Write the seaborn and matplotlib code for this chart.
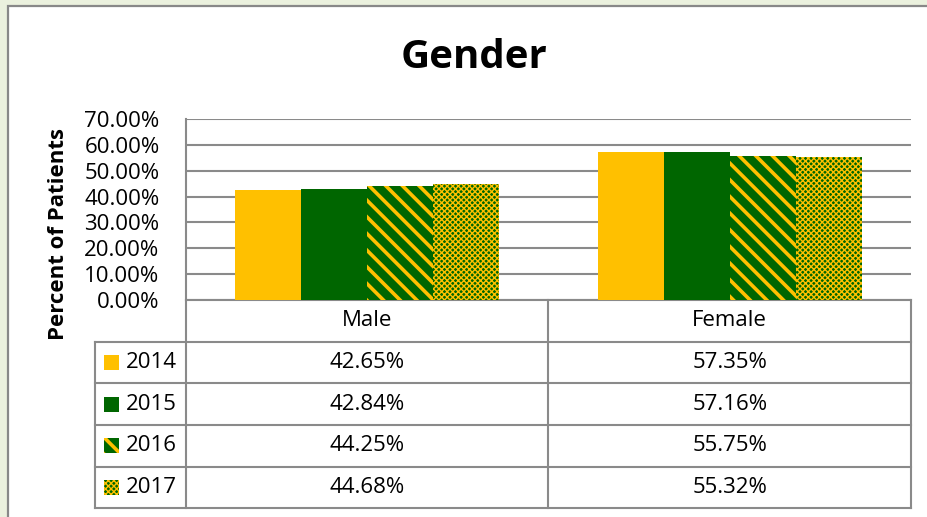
import numpy as np
import pandas as pd
import matplotlib
matplotlib.use('Agg')
import matplotlib.pyplot as plt
import seaborn as sns
from matplotlib.patches import Rectangle

# ── Data ───────────────────────────────────────────────────────────
genders = ['Male', 'Female']
years = ['2014', '2015', '2016', '2017']
pct_2014 = [42.65, 57.35]
pct_2015 = [42.84, 57.16]
pct_2016 = [44.25, 55.75]
pct_2017 = [44.68, 55.32]
yticks = [0, 10, 20, 30, 40, 50, 60, 70]

YELLOW = '#FFC000'
GREEN = '#006600'
GRID = '#8A8A8A'
face_colors = [YELLOW, GREEN, GREEN, GREEN]
hatches = [None, None, '\\\\', 'xxxxxx']
hatch_lw = [0, 0, 2.6, 1.0]

series = [pct_2014, pct_2015, pct_2016, pct_2017]
df = pd.DataFrame({
    'Gender': np.repeat([genders], len(years), axis=0).ravel(),
    'Year': np.repeat(years, len(genders)),
    'Percent': np.concatenate(series),
})

sns.set_style('white')
plt.rcParams['font.family'] = ['Open Sans', 'DejaVu Sans']
plt.rcParams['hatch.linewidth'] = 2.6
for k in ['text.color', 'axes.labelcolor', 'xtick.color', 'ytick.color']:
    plt.rcParams[k] = 'black'

W, H = 927, 517
fig = plt.figure(figsize=(W / 100, H / 100), dpi=100)
fig.patch.set_facecolor('#EBF1DE')

# full-figure overlay in pixel coordinates (for chart frame and data table)
ov = fig.add_axes([0, 0, 1, 1], zorder=0)
ov.set_xlim(0, W)
ov.set_ylim(H, 0)
ov.axis('off')
ov.add_patch(Rectangle((8, 6), W, H, facecolor='white', edgecolor='#888888', lw=1.6))

ax = fig.add_axes([186 / W, (H - 300) / H, 725 / W, 181 / H], zorder=2)
ax.patch.set_alpha(0)
sns.barplot(data=df, x='Gender', y='Percent', hue='Year', order=genders, hue_order=years,
            palette=face_colors, saturation=1, width=0.728, legend=False, ax=ax,
            errorbar=None)

for i, cont in enumerate(ax.containers):
    for bar in cont:
        bar.set_linewidth(0)
        if hatches[i]:
            bar.set_hatch(hatches[i])
            bar.set_edgecolor(YELLOW)
            if hasattr(bar, 'set_hatch_linewidth'):
                bar.set_hatch_linewidth(hatch_lw[i])

ax.set_xlim(-0.5, 1.5)
ax.set_ylim(0, 70)
ax.set_yticks(yticks)
ax.set_yticklabels([f'{v:.2f}%' for v in yticks], fontsize=16)
ax.set_xticks([])
ax.set_xlabel('')
ax.tick_params(axis='y', length=0, pad=19)
ax.yaxis.grid(True, color=GRID, lw=1.5)
ax.set_axisbelow(True)
for s in ['top', 'right', 'bottom']:
    ax.spines[s].set_visible(False)
ax.spines['left'].set_color(GRID)
ax.spines['left'].set_linewidth(1.5)
ax.set_ylabel('Percent of Patients', fontsize=16, fontweight='bold')
ax.yaxis.set_label_coords(-0.162, 0.365)

fig.text(474 / W, (H - 58) / H, 'Gender', ha='center', va='center',
         fontsize=29, fontweight='bold')

# ── Data table ─────────────────────────────────────────────────────
fig.canvas.draw()
def to_px(xd):
    return ax.transData.transform((xd, 0))[0]

col_edges = [to_px(-0.5), to_px(0.5), to_px(1.5)]
left_x = 95
row_y = [300, 341.7, 383.3, 425, 466.7, 508]
lkw = dict(color=GRID, lw=1.5, solid_capstyle='projecting')

ov.plot([col_edges[0], col_edges[-1]], [row_y[0], row_y[0]], **lkw)
for y in row_y[1:]:
    ov.plot([left_x, col_edges[-1]], [y, y], **lkw)
for x in col_edges[1:]:
    ov.plot([x, x], [row_y[0], row_y[-1]], **lkw)
ov.plot([col_edges[0], col_edges[0]], [row_y[0], row_y[-1]], **lkw)
ov.plot([left_x, left_x], [row_y[1], row_y[-1]], **lkw)

for j, g in enumerate(genders):
    xc = (col_edges[j] + col_edges[j + 1]) / 2
    ov.text(xc, (row_y[0] + row_y[1]) / 2, g, ha='center', va='center', fontsize=16)

for i, yr in enumerate(years):
    yc = (row_y[i + 1] + row_y[i + 2]) / 2
    sw = Rectangle((104, yc - 7.5), 15, 15, facecolor=face_colors[i], lw=0,
                   edgecolor=YELLOW if hatches[i] else 'none', hatch=hatches[i])
    if hatches[i] and hasattr(sw, 'set_hatch_linewidth'):
        sw.set_hatch_linewidth(hatch_lw[i])
    ov.add_patch(sw)
    ov.text(126, yc, yr, ha='left', va='center', fontsize=16)
    for j in range(len(genders)):
        xc = (col_edges[j] + col_edges[j + 1]) / 2
        ov.text(xc, yc, f'{series[i][j]:.2f}%', ha='center', va='center', fontsize=16)

fig.savefig('out.png', dpi=100, facecolor=fig.get_facecolor())
